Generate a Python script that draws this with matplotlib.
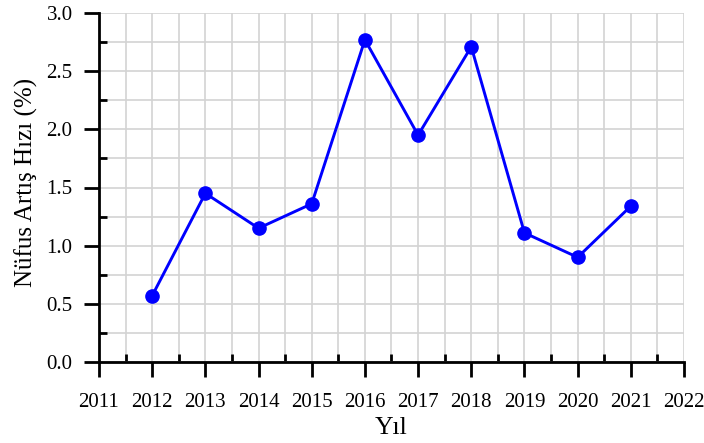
import matplotlib
matplotlib.use('Agg')
from matplotlib import pyplot as plt
from matplotlib.ticker import MultipleLocator, FormatStrFormatter

# Data
years = [2012, 2013, 2014, 2015, 2016, 2017, 2018, 2019, 2020, 2021]
growth = [0.57, 1.45, 1.15, 1.36, 2.77, 1.95, 2.71, 1.11, 0.90, 1.34]

plt.rcParams['font.family'] = ['Liberation Serif', 'DejaVu Serif']

fig = plt.figure(figsize=(7.04, 4.43), dpi=100)
ax = fig.add_axes([99 / 704, 1 - 362 / 443, (684 - 99) / 704, (362 - 13) / 443])

ax.plot(years, growth, color='#0000ff', linewidth=2.1, marker='o',
        markersize=9.5, zorder=3, clip_on=False)

ax.set_xlim(2011, 2022)
ax.set_ylim(0, 3.0)
ax.xaxis.set_major_locator(MultipleLocator(1))
ax.xaxis.set_minor_locator(MultipleLocator(0.5))
ax.yaxis.set_major_locator(MultipleLocator(0.5))
ax.yaxis.set_minor_locator(MultipleLocator(0.25))
ax.yaxis.set_major_formatter(FormatStrFormatter('%.1f'))

ax.grid(which='both', color='#d3d3d3', linewidth=1.2, zorder=0)
ax.set_axisbelow(True)

for side in ['top', 'right']:
    ax.spines[side].set_visible(False)
for side in ['left', 'bottom']:
    ax.spines[side].set_linewidth(2)
    ax.spines[side].set_color('black')

ax.tick_params(which='major', direction='out', length=11, width=2, labelsize=15)
ax.tick_params(axis='x', which='major', pad=11)
ax.tick_params(axis='y', which='major', pad=8)
ax.tick_params(which='minor', direction='in', length=6, width=2)

ax.set_xlabel('Yıl', fontsize=18.5, labelpad=4)
ax.set_ylabel('Nüfus Artış Hızı (%)', fontsize=18)
ax.yaxis.set_label_coords(-0.104, 0.514)

fig.savefig('out.png', dpi=100)
